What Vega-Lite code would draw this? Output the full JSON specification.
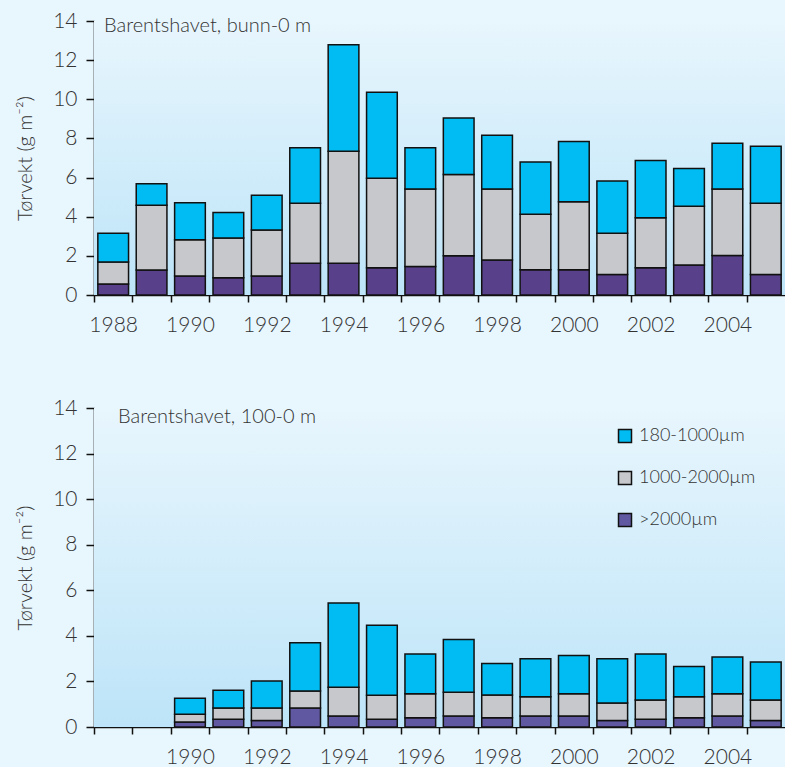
{
  "$schema": "https://vega.github.io/schema/vega-lite/v6.json",
  "background": "#e8f6fd",
  "padding": {"left": 15, "top": 10, "right": 0, "bottom": 0},
  "config": {
    "font": "Lato",
    "view": {"stroke": null},
    "concat": {"spacing": 62},
    "axis": {
      "domainColor": "#111111",
      "domainWidth": 1.6,
      "tickColor": "#111111",
      "tickWidth": 1.5,
      "labelColor": "#333333",
      "labelFont": "Lato",
      "labelFontSize": 21,
      "labelFontWeight": 300,
      "titleFont": "Lato",
      "titleFontSize": 20,
      "titleFontWeight": 300,
      "titleColor": "#333333",
      "grid": false
    },
    "axisY": {"tickSize": 8, "labelPadding": 9, "titlePadding": 17},
    "axisX": {"tickSize": 7, "labelPadding": 12, "labelAngle": 0},
    "title": {"font": "Lato", "fontSize": 20, "fontWeight": 300, "color": "#333333", "anchor": "start", "frame": "group", "baseline": "alphabetic", "offset": 0}
  },
  "datasets": {
    "bunn": [
      {"year": 1988, "fraction": ">2000µm", "rank": 1, "value": 0.56}, {"year": 1988, "fraction": "1000-2000µm", "rank": 2, "value": 1.12}, {"year": 1988, "fraction": "180-1000µm", "rank": 3, "value": 1.47},
      {"year": 1989, "fraction": ">2000µm", "rank": 1, "value": 1.28}, {"year": 1989, "fraction": "1000-2000µm", "rank": 2, "value": 3.31}, {"year": 1989, "fraction": "180-1000µm", "rank": 3, "value": 1.09},
      {"year": 1990, "fraction": ">2000µm", "rank": 1, "value": 0.97}, {"year": 1990, "fraction": "1000-2000µm", "rank": 2, "value": 1.85}, {"year": 1990, "fraction": "180-1000µm", "rank": 3, "value": 1.89},
      {"year": 1991, "fraction": ">2000µm", "rank": 1, "value": 0.88}, {"year": 1991, "fraction": "1000-2000µm", "rank": 2, "value": 2.03}, {"year": 1991, "fraction": "180-1000µm", "rank": 3, "value": 1.31},
      {"year": 1992, "fraction": ">2000µm", "rank": 1, "value": 0.97}, {"year": 1992, "fraction": "1000-2000µm", "rank": 2, "value": 2.35}, {"year": 1992, "fraction": "180-1000µm", "rank": 3, "value": 1.78},
      {"year": 1993, "fraction": ">2000µm", "rank": 1, "value": 1.62}, {"year": 1993, "fraction": "1000-2000µm", "rank": 2, "value": 3.07}, {"year": 1993, "fraction": "180-1000µm", "rank": 3, "value": 2.84},
      {"year": 1994, "fraction": ">2000µm", "rank": 1, "value": 1.62}, {"year": 1994, "fraction": "1000-2000µm", "rank": 2, "value": 5.73}, {"year": 1994, "fraction": "180-1000µm", "rank": 3, "value": 5.44},
      {"year": 1995, "fraction": ">2000µm", "rank": 1, "value": 1.39}, {"year": 1995, "fraction": "1000-2000µm", "rank": 2, "value": 4.58}, {"year": 1995, "fraction": "180-1000µm", "rank": 3, "value": 4.39},
      {"year": 1996, "fraction": ">2000µm", "rank": 1, "value": 1.45}, {"year": 1996, "fraction": "1000-2000µm", "rank": 2, "value": 3.96}, {"year": 1996, "fraction": "180-1000µm", "rank": 3, "value": 2.11},
      {"year": 1997, "fraction": ">2000µm", "rank": 1, "value": 2.01}, {"year": 1997, "fraction": "1000-2000µm", "rank": 2, "value": 4.15}, {"year": 1997, "fraction": "180-1000µm", "rank": 3, "value": 2.89},
      {"year": 1998, "fraction": ">2000µm", "rank": 1, "value": 1.79}, {"year": 1998, "fraction": "1000-2000µm", "rank": 2, "value": 3.62}, {"year": 1998, "fraction": "180-1000µm", "rank": 3, "value": 2.75},
      {"year": 1999, "fraction": ">2000µm", "rank": 1, "value": 1.29}, {"year": 1999, "fraction": "1000-2000µm", "rank": 2, "value": 2.83}, {"year": 1999, "fraction": "180-1000µm", "rank": 3, "value": 2.67},
      {"year": 2000, "fraction": ">2000µm", "rank": 1, "value": 1.29}, {"year": 2000, "fraction": "1000-2000µm", "rank": 2, "value": 3.47}, {"year": 2000, "fraction": "180-1000µm", "rank": 3, "value": 3.08},
      {"year": 2001, "fraction": ">2000µm", "rank": 1, "value": 1.05}, {"year": 2001, "fraction": "1000-2000µm", "rank": 2, "value": 2.11}, {"year": 2001, "fraction": "180-1000µm", "rank": 3, "value": 2.66},
      {"year": 2002, "fraction": ">2000µm", "rank": 1, "value": 1.39}, {"year": 2002, "fraction": "1000-2000µm", "rank": 2, "value": 2.56}, {"year": 2002, "fraction": "180-1000µm", "rank": 3, "value": 2.92},
      {"year": 2003, "fraction": ">2000µm", "rank": 1, "value": 1.53}, {"year": 2003, "fraction": "1000-2000µm", "rank": 2, "value": 3.01}, {"year": 2003, "fraction": "180-1000µm", "rank": 3, "value": 1.92},
      {"year": 2004, "fraction": ">2000µm", "rank": 1, "value": 2.02}, {"year": 2004, "fraction": "1000-2000µm", "rank": 2, "value": 3.39}, {"year": 2004, "fraction": "180-1000µm", "rank": 3, "value": 2.35},
      {"year": 2005, "fraction": ">2000µm", "rank": 1, "value": 1.05}, {"year": 2005, "fraction": "1000-2000µm", "rank": 2, "value": 3.64}, {"year": 2005, "fraction": "180-1000µm", "rank": 3, "value": 2.91}
    ],
    "d100": [
      {"year": 1990, "fraction": ">2000µm", "rank": 1, "value": 0.22}, {"year": 1990, "fraction": "1000-2000µm", "rank": 2, "value": 0.34}, {"year": 1990, "fraction": "180-1000µm", "rank": 3, "value": 0.70},
      {"year": 1991, "fraction": ">2000µm", "rank": 1, "value": 0.34}, {"year": 1991, "fraction": "1000-2000µm", "rank": 2, "value": 0.49}, {"year": 1991, "fraction": "180-1000µm", "rank": 3, "value": 0.78},
      {"year": 1992, "fraction": ">2000µm", "rank": 1, "value": 0.29}, {"year": 1992, "fraction": "1000-2000µm", "rank": 2, "value": 0.54}, {"year": 1992, "fraction": "180-1000µm", "rank": 3, "value": 1.19},
      {"year": 1993, "fraction": ">2000µm", "rank": 1, "value": 0.83}, {"year": 1993, "fraction": "1000-2000µm", "rank": 2, "value": 0.75}, {"year": 1993, "fraction": "180-1000µm", "rank": 3, "value": 2.12},
      {"year": 1994, "fraction": ">2000µm", "rank": 1, "value": 0.48}, {"year": 1994, "fraction": "1000-2000µm", "rank": 2, "value": 1.26}, {"year": 1994, "fraction": "180-1000µm", "rank": 3, "value": 3.70},
      {"year": 1995, "fraction": ">2000µm", "rank": 1, "value": 0.34}, {"year": 1995, "fraction": "1000-2000µm", "rank": 2, "value": 1.05}, {"year": 1995, "fraction": "180-1000µm", "rank": 3, "value": 3.08},
      {"year": 1996, "fraction": ">2000µm", "rank": 1, "value": 0.41}, {"year": 1996, "fraction": "1000-2000µm", "rank": 2, "value": 1.05}, {"year": 1996, "fraction": "180-1000µm", "rank": 3, "value": 1.74},
      {"year": 1997, "fraction": ">2000µm", "rank": 1, "value": 0.48}, {"year": 1997, "fraction": "1000-2000µm", "rank": 2, "value": 1.04}, {"year": 1997, "fraction": "180-1000µm", "rank": 3, "value": 2.32},
      {"year": 1998, "fraction": ">2000µm", "rank": 1, "value": 0.41}, {"year": 1998, "fraction": "1000-2000µm", "rank": 2, "value": 0.99}, {"year": 1998, "fraction": "180-1000µm", "rank": 3, "value": 1.39},
      {"year": 1999, "fraction": ">2000µm", "rank": 1, "value": 0.48}, {"year": 1999, "fraction": "1000-2000µm", "rank": 2, "value": 0.85}, {"year": 1999, "fraction": "180-1000µm", "rank": 3, "value": 1.67},
      {"year": 2000, "fraction": ">2000µm", "rank": 1, "value": 0.48}, {"year": 2000, "fraction": "1000-2000µm", "rank": 2, "value": 0.98}, {"year": 2000, "fraction": "180-1000µm", "rank": 3, "value": 1.68},
      {"year": 2001, "fraction": ">2000µm", "rank": 1, "value": 0.28}, {"year": 2001, "fraction": "1000-2000µm", "rank": 2, "value": 0.77}, {"year": 2001, "fraction": "180-1000µm", "rank": 3, "value": 1.95},
      {"year": 2002, "fraction": ">2000µm", "rank": 1, "value": 0.34}, {"year": 2002, "fraction": "1000-2000µm", "rank": 2, "value": 0.84}, {"year": 2002, "fraction": "180-1000µm", "rank": 3, "value": 2.02},
      {"year": 2003, "fraction": ">2000µm", "rank": 1, "value": 0.41}, {"year": 2003, "fraction": "1000-2000µm", "rank": 2, "value": 0.92}, {"year": 2003, "fraction": "180-1000µm", "rank": 3, "value": 1.33},
      {"year": 2004, "fraction": ">2000µm", "rank": 1, "value": 0.48}, {"year": 2004, "fraction": "1000-2000µm", "rank": 2, "value": 0.98}, {"year": 2004, "fraction": "180-1000µm", "rank": 3, "value": 1.61},
      {"year": 2005, "fraction": ">2000µm", "rank": 1, "value": 0.28}, {"year": 2005, "fraction": "1000-2000µm", "rank": 2, "value": 0.90}, {"year": 2005, "fraction": "180-1000µm", "rank": 3, "value": 1.67}
    ]
  },
  "vconcat": [
    {
      "width": 691,
      "height": 274,
      "title": {"text": "Barentshavet, bunn-0 m", "dx": 10, "dy": 30},
      "layer": [
        {
          "data": {"values": [{}]},
          "mark": {"type": "rect", "color": {"gradient": "linear", "x1": 0, "y1": 0, "x2": 0, "y2": 1, "stops": [{"offset": 0, "color": "#e8f6fd"}, {"offset": 1, "color": "#bde4f8"}]}},
          "encoding": {}
        },
        {
          "data": {"name": "bunn"},
          "mark": {"type": "bar", "stroke": "#111111", "strokeWidth": 1.5},
          "encoding": {
            "x": {
              "field": "year", "type": "ordinal",
              "scale": {"domain": [1988, 1989, 1990, 1991, 1992, 1993, 1994, 1995, 1996, 1997, 1998, 1999, 2000, 2001, 2002, 2003, 2004, 2005], "paddingInner": 0.2, "paddingOuter": 0.1},
              "axis": {"title": null, "tickOffset": -19.2, "labelOffset": 19.2, "labelExpr": "datum.value % 2 == 0 ? datum.label : ''"}
            },
            "y": {
              "field": "value", "type": "quantitative", "stack": "zero",
              "scale": {"domain": [0, 14], "nice": false},
              "axis": {"title": "Tørvekt (g m⁻²)", "values": [0, 2, 4, 6, 8, 10, 12, 14]}
            },
            "order": {"field": "rank", "type": "quantitative", "sort": "ascending"},
            "color": {
              "field": "fraction", "type": "nominal",
              "sort": ["180-1000µm", "1000-2000µm", ">2000µm"],
              "scale": {"domain": ["180-1000µm", "1000-2000µm", ">2000µm"], "range": ["#00bcf2", "#c6c8cb", "#58408b"]},
              "legend": null
            }
          }
        }
      ]
    },
    {
      "width": 691,
      "height": 319,
      "title": {"text": "Barentshavet, 100-0 m", "dx": 24, "dy": 34},
      "layer": [
        {
          "data": {"values": [{}]},
          "mark": {"type": "rect", "color": {"gradient": "linear", "x1": 0, "y1": 0, "x2": 0, "y2": 1, "stops": [{"offset": 0, "color": "#e8f6fd"}, {"offset": 1, "color": "#bde4f8"}]}},
          "encoding": {}
        },
        {
          "data": {"name": "d100"},
          "mark": {"type": "bar", "stroke": "#111111", "strokeWidth": 1.5},
          "encoding": {
            "x": {
              "field": "year", "type": "ordinal",
              "scale": {"domain": [1988, 1989, 1990, 1991, 1992, 1993, 1994, 1995, 1996, 1997, 1998, 1999, 2000, 2001, 2002, 2003, 2004, 2005], "paddingInner": 0.2, "paddingOuter": 0.1},
              "axis": {"title": null, "tickOffset": -19.2, "labelOffset": 19.2, "labelExpr": "datum.value % 2 == 0 && datum.value > 1988 ? datum.label : ''"}
            },
            "y": {
              "field": "value", "type": "quantitative", "stack": "zero",
              "scale": {"domain": [0, 14], "nice": false},
              "axis": {"title": "Tørvekt (g m⁻²)", "values": [0, 2, 4, 6, 8, 10, 12, 14]}
            },
            "order": {"field": "rank", "type": "quantitative", "sort": "ascending"},
            "color": {
              "field": "fraction", "type": "nominal",
              "sort": ["180-1000µm", "1000-2000µm", ">2000µm"],
              "scale": {"domain": ["180-1000µm", "1000-2000µm", ">2000µm"], "range": ["#00bcf2", "#c6c8cb", "#6158a2"]},
              "legend": {
                "orient": "none", "legendX": 522, "legendY": 19, "title": null,
                "symbolType": "square", "symbolSize": 169, "symbolStrokeColor": "#111111", "symbolStrokeWidth": 1.5, "symbolOpacity": 1,
                "labelFont": "Lato", "labelFontSize": 18, "labelFontWeight": 300, "labelColor": "#333333", "labelOffset": 5,
                "rowPadding": 22, "padding": 0
              }
            }
          }
        }
      ]
    }
  ],
  "resolve": {"scale": {"color": "independent", "x": "independent", "y": "independent"}}
}
